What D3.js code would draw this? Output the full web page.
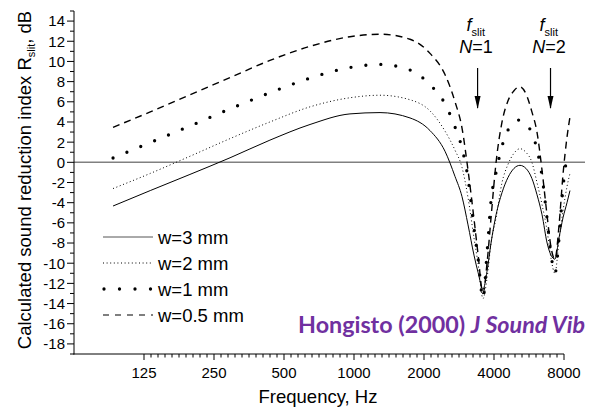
<!DOCTYPE html>
<html><head><meta charset="utf-8">
<script src="https://cdn.jsdelivr.net/npm/d3@7"></script>
<style>body{margin:0;background:#fff}svg{display:block}text{font-family:"Liberation Sans",Arial,sans-serif}</style>
</head><body>
<svg id="c" width="589" height="410"></svg>
<script>
// Frequencies (Hz) of the sampled points
const freqs = [92,133,197,293,435,647,961,1294,1741,2122,2462,2719,2914,3093,3281,3415,3587,3733,3884,4083,4331,4595,4875,5172,5487,5822,6122,6437,6768,7032,7316,7612,7922,8242,8488];
// Calculated sound reduction index R_slit (dB) per slit width
const w3  = [-4.33,-2.8,-1.2,0.45,2.2,3.75,4.8,4.93,4.4,3.15,1.1,-1.4,-3.4,-6.2,-9.2,-10.9,-12.6,-10.8,-8.0,-5.2,-3.0,-1.5,-0.6,-0.3,-0.6,-1.6,-3.2,-5.2,-8.0,-9.2,-9.6,-7.5,-5.5,-4.0,-2.8];
const w2  = [-2.6,-1.1,0.6,2.35,4.0,5.5,6.4,6.65,6.2,5.1,3.1,1.2,-0.5,-3.5,-7.5,-10.0,-13.5,-11.5,-8.0,-5.5,-2.0,-0.2,0.9,1.35,1.0,0.0,-2.0,-4.2,-6.8,-9.5,-11.0,-7.8,-4.8,-2.4,-1.1];
const w1  = [0.43,1.96,3.6,5.3,6.9,8.35,9.4,9.7,9.15,7.7,5.8,3.5,1.4,-1.6,-6.5,-9.5,-13.5,-9.0,-3.8,-1.0,1.6,3.2,4.0,4.2,3.8,2.9,1.3,-1.4,-5.6,-9.1,-11.0,-7.6,-2.5,0.6,null];
const w05 = [3.47,5.0,6.7,8.4,10.1,11.5,12.45,12.7,12.2,10.8,8.7,6.0,3.4,-0.8,-5.6,-9.1,-13.0,-10.0,-5.5,0.0,4.0,6.1,7.1,7.5,6.8,5.0,3.0,-0.8,-5.3,-8.4,-9.6,-6.3,-1.2,2.5,4.5];
const seriesNames = ["w=3 mm","w=2 mm","w=1 mm","w=0.5 mm"];
const xTicks = [125,250,500,1000,2000,4000,8000];
const yTicks = d3.range(-18,15,2);
const slitMarks = [{f:3400,n:"1"},{f:7000,n:"2"}];

const svg = d3.select("#c");
const x = d3.scaleLog().base(2).domain([62.5,8000]).range([74,564]);
const y = d3.scaleLinear().domain([-19,15]).range([354,11]);

const styles = [
  {w:1, dash:null, cap:"butt", lw:1},
  {w:1, dash:"1,2.6", cap:"butt", lw:1},
  {w:3.3, dash:"0,15", cap:"round", lw:3.3},
  {w:1.4, dash:"7,5", cap:"butt", lw:1.4}
];
const data = [w3,w2,w1,w05];

// zero line
svg.append("line").attr("x1",74).attr("x2",585).attr("y1",y(0)).attr("y2",y(0))
  .attr("stroke","#808080").attr("stroke-width",1.6);

// axes
const ax = svg.append("g").attr("stroke","#000").attr("stroke-width",1);
ax.append("line").attr("x1",74).attr("x2",74).attr("y1",y(15)).attr("y2",y(-19)+0.5);
ax.append("line").attr("x1",73.5).attr("x2",564).attr("y1",354).attr("y2",354);
// y ticks
d3.range(-19,16,1).forEach(v=>{
  const major = (v%2===0);
  ax.append("line").attr("x1",74).attr("x2",major?67:70).attr("y1",y(v)).attr("y2",y(v));
});
svg.append("g").selectAll("text").data(yTicks).join("text")
  .attr("x",65).attr("y",d=>y(d)).attr("dy","0.36em").attr("text-anchor","end")
  .attr("font-size",15).text(d=>d);
// x ticks
for(let o=0;o<6;o++){
  for(let k=1;k<10;k++){
    const f = 125*Math.pow(2,o+k/10);
    ax.append("line").attr("x1",x(f)).attr("x2",x(f)).attr("y1",354).attr("y2",357.5);
  }
}
xTicks.forEach(f=>ax.append("line").attr("x1",x(f)).attr("x2",x(f)).attr("y1",354).attr("y2",360));
svg.append("g").selectAll("text").data(xTicks).join("text")
  .attr("x",d=>x(d)).attr("y",378).attr("text-anchor","middle")
  .attr("font-size",15).text(d=>d);

// axis titles
svg.append("text").attr("x",318).attr("y",403).attr("text-anchor","middle")
  .attr("font-size",18.5).text("Frequency, Hz");
const yt = svg.append("text").attr("transform","translate(31,180) rotate(-90)")
  .attr("text-anchor","middle").attr("font-size",18.5);
yt.append("tspan").text("Calculated sound reduction index R");
yt.append("tspan").attr("font-size",11).attr("dy",4).text("slit");
yt.append("tspan").attr("dy",-4).text(", dB");

// curves
const line = d3.line().defined(d=>d[1]!==null).x(d=>x(d[0])).y(d=>y(d[1])).curve(d3.curveMonotoneX);
data.forEach((arr,i)=>{
  const pts = freqs.map((f,j)=>[f,arr[j]]);
  const s = styles[i];
  svg.append("path").attr("d",line(pts)).attr("fill","none").attr("stroke","#000")
    .attr("stroke-width",s.w).attr("stroke-dasharray",s.dash).attr("stroke-linecap",s.cap)
    .attr("stroke-linejoin","round");
});

// legend
const legY = [237,263,289,315];
seriesNames.forEach((n,i)=>{
  const s = styles[i];
  svg.append("line").attr("x1",i===2?104:103).attr("x2",153).attr("y1",legY[i]).attr("y2",legY[i])
    .attr("stroke",i===0?"#555":"#000").attr("stroke-width",i===3?1.2:s.lw)
    .attr("stroke-dasharray",i===3?"6,6":(i===2?"0,15.5":s.dash)).attr("stroke-linecap",s.cap);
  svg.append("text").attr("x",158).attr("y",legY[i]).attr("dy","0.36em")
    .attr("font-size",18.5).text(n);
});

// slit frequency annotations
svg.append("defs").append("marker").attr("id","ah").attr("viewBox","0 0 6 12")
  .attr("refX",3).attr("refY",12).attr("markerWidth",6).attr("markerHeight",12)
  .attr("markerUnits","userSpaceOnUse").attr("orient","auto-start-reverse")
  .append("path").attr("d","M0,0 L3,12 L6,0 L3,3 Z").attr("fill","#000");
slitMarks.forEach(m=>{
  const cx = x(m.f);
  svg.append("line").attr("x1",cx).attr("x2",cx).attr("y1",68).attr("y2",108)
    .attr("stroke","#000").attr("stroke-width",1.2);
  svg.append("path").attr("d",`M${cx-3},96 L${cx},109 L${cx+3},96 Z`).attr("fill","#000");
  const t1 = svg.append("text").attr("x",cx-11).attr("y",31).attr("font-size",18);
  t1.append("tspan").attr("font-style","italic").text("f");
  t1.append("tspan").attr("font-size",11).attr("dy",5).text("slit");
  const t2 = svg.append("text").attr("x",cx-1.5).attr("y",53).attr("text-anchor","middle").attr("font-size",18);
  t2.append("tspan").attr("font-style","italic").text("N");
  t2.append("tspan").text("="+m.n);
});

// source label
const src = svg.append("text").attr("x",585).attr("y",333).attr("text-anchor","end")
  .attr("font-size",20).attr("font-weight","bold").attr("fill","#7030A0")
  .style("font-family","Lato, 'Open Sans', sans-serif");
src.append("tspan").text("Hongisto (2000) ");
src.append("tspan").attr("font-style","italic").text("J Sound Vib");
const wNow = src.node().getComputedTextLength();
src.attr("font-size",20*287/wNow);
</script>
</body></html>
